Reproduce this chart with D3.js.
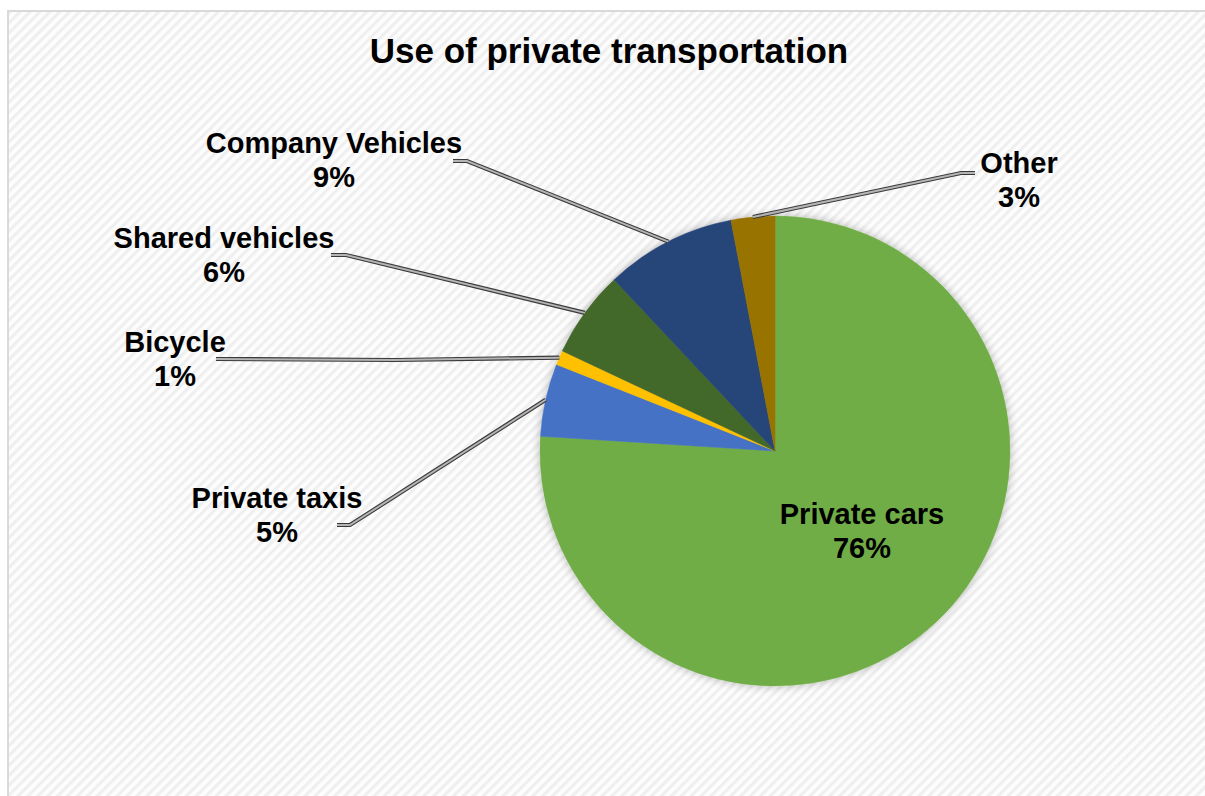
<!DOCTYPE html>
<html>
<head>
<meta charset="utf-8">
<script src="https://cdn.jsdelivr.net/npm/d3@7"></script>
<style>
  html, body { margin: 0; padding: 0; background: #fff; }
  svg { display: block; }
  text { font-family: "Liberation Sans", Arial, sans-serif; font-weight: bold; fill: #000; }
</style>
</head>
<body>
<svg id="chart" width="1205" height="796"></svg>
<script>
// Share of each mode of private transportation (%)
const categories = ["Private cars", "Private taxis", "Bicycle", "Shared vehicles", "Company Vehicles", "Other"];
const shares = [76, 5, 1, 6, 9, 3];
const sliceColors = ["#70AD47", "#4472C4", "#FFC000", "#43682B", "#264478", "#997300"];
const titleText = "Use of private transportation";

// Where each label sits and how its leader line bends (null = label inside the slice)
const labelLayout = [
  { x: 862, y: 524, leader: null },
  { x: 277, y: 508, leader: [[350, 525], [337, 525]] },
  { x: 175, y: 352, leader: [[395, 360], [216, 359]] },
  { x: 224, y: 248, leader: [[346, 255], [331, 255]] },
  { x: 334, y: 153, leader: [[467, 161], [453, 161]] },
  { x: 1019, y: 173, leader: [[961, 173], [975, 173]] }
];

const W = 1205, H = 796;
const cx = 775, cy = 451, radius = 235;

const svg = d3.select("#chart");
const defs = svg.append("defs");

// Light diagonal hatch used for the chart area fill
const pat = defs.append("pattern")
  .attr("id", "hatch")
  .attr("patternUnits", "userSpaceOnUse")
  .attr("width", 7).attr("height", 7)
  .attr("patternTransform", "rotate(45)");
pat.append("rect").attr("width", 7).attr("height", 7).attr("fill", "#fdfdfd");
pat.append("rect").attr("x", 0).attr("width", 3.2).attr("height", 7).attr("fill", "#efefef");

// Soft shadow around the pie
const f = defs.append("filter").attr("id", "pieShadow")
  .attr("x", "-20%").attr("y", "-20%").attr("width", "140%").attr("height", "140%");
f.append("feGaussianBlur").attr("in", "SourceAlpha").attr("stdDeviation", 5).attr("result", "b");
f.append("feComponentTransfer").attr("in", "b").attr("result", "s")
  .append("feFuncA").attr("type", "linear").attr("slope", 0.28);
const m = f.append("feMerge");
m.append("feMergeNode").attr("in", "s");
m.append("feMergeNode").attr("in", "SourceGraphic");

svg.append("rect").attr("width", W).attr("height", H).attr("fill", "#fff");
svg.append("rect")
  .attr("x", 8).attr("y", 11).attr("width", W + 20).attr("height", H + 20)
  .attr("fill", "url(#hatch)")
  .attr("stroke", "#d9d9d9").attr("stroke-width", 2);

svg.append("text")
  .attr("x", 609).attr("y", 63)
  .attr("text-anchor", "middle")
  .attr("font-size", 35)
  .text(titleText);

const data = categories.map((c, i) => ({ name: c, value: shares[i], color: sliceColors[i], layout: labelLayout[i] }));

const pie = d3.pie().sort(null).value(d => d.value).startAngle(0).endAngle(2 * Math.PI);
const arcs = pie(data);
const arc = d3.arc().innerRadius(0).outerRadius(radius);

const g = svg.append("g").attr("transform", `translate(${cx},${cy})`);

g.append("g").attr("filter", "url(#pieShadow)")
  .selectAll("path")
  .data(arcs)
  .join("path")
  .attr("d", arc)
  .attr("fill", d => d.data.color)
  .attr("stroke", d => d.data.color)
  .attr("stroke-width", 0.5);

// Leader lines: start at the outer edge of the slice's middle angle
const leaderArcs = arcs.filter(d => d.data.layout.leader);
const line = d3.line();
const leaderPts = d => {
  const a = (d.startAngle + d.endAngle) / 2;
  const p0 = [cx + radius * Math.sin(a), cy - radius * Math.cos(a)];
  return [p0, ...d.data.layout.leader];
};
const leaders = svg.append("g").attr("fill", "none").attr("stroke-linejoin", "miter");
leaders.selectAll("path.outer")
  .data(leaderArcs).join("path")
  .attr("class", "outer")
  .attr("d", d => line(leaderPts(d)))
  .attr("stroke", "#3a3a3a").attr("stroke-width", 4.2);
leaders.selectAll("path.inner")
  .data(leaderArcs).join("path")
  .attr("class", "inner")
  .attr("d", d => line(leaderPts(d)))
  .attr("stroke", "#b4b4b4").attr("stroke-width", 2);

// Category name and percentage
const labels = svg.append("g").attr("font-size", 29).attr("text-anchor", "middle");
arcs.forEach(d => {
  const t = labels.append("text").attr("x", d.data.layout.x).attr("y", d.data.layout.y);
  t.append("tspan").attr("x", d.data.layout.x).text(d.data.name);
  t.append("tspan").attr("x", d.data.layout.x).attr("dy", 33.5).text(d.data.value + "%");
});
</script>
</body>
</html>
